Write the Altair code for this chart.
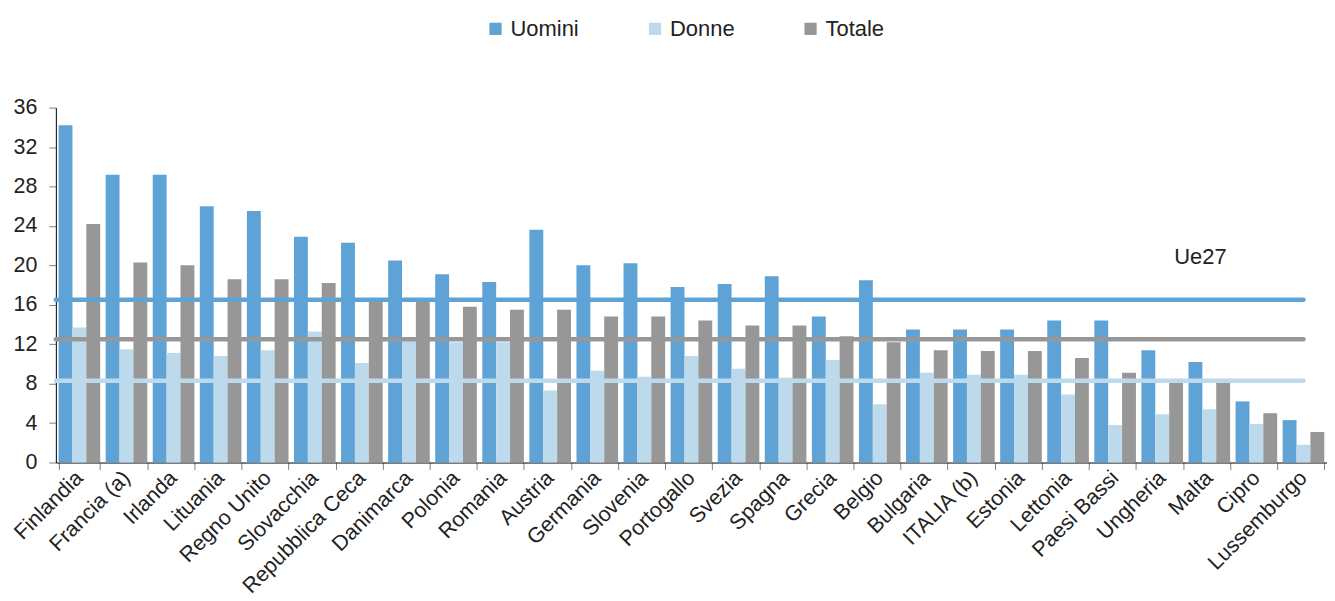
import altair as alt
import pandas as pd

paesi = ["Finlandia", "Francia (a)", "Irlanda", "Lituania", "Regno Unito", "Slovacchia",
         "Repubblica Ceca", "Danimarca", "Polonia", "Romania", "Austria", "Germania",
         "Slovenia", "Portogallo", "Svezia", "Spagna", "Grecia", "Belgio", "Bulgaria",
         "ITALIA (b)", "Estonia", "Lettonia", "Paesi Bassi", "Ungheria", "Malta", "Cipro",
         "Lussemburgo"]
uomini = [34.2, 29.2, 29.2, 26.0, 25.5, 22.9, 22.3, 20.5, 19.1, 18.3, 23.6, 20.0, 20.2,
          17.8, 18.1, 18.9, 14.8, 18.5, 13.5, 13.5, 13.5, 14.4, 14.4, 11.4, 10.2, 6.2, 4.3]
donne = [13.7, 11.5, 11.1, 10.8, 11.4, 13.3, 10.1, 12.3, 12.2, 12.2, 7.3, 9.3, 8.7,
         10.8, 9.5, 8.6, 10.4, 5.9, 9.1, 8.9, 8.9, 6.9, 3.8, 4.9, 5.4, 3.9, 1.8]
totale = [24.2, 20.3, 20.0, 18.6, 18.6, 18.2, 16.3, 16.3, 15.8, 15.5, 15.5, 14.8, 14.8,
          14.4, 13.9, 13.9, 12.8, 12.2, 11.4, 11.3, 11.3, 10.6, 9.1, 8.1, 8.1, 5.0, 3.1]
serie = ["Uomini", "Donne", "Totale"]
colori = ["#5FA3D6", "#BDDAEC", "#979797"]
ue27 = [16.5, 8.3, 12.5]
ue27_label = ["Ue27"]
ue27_label_y = [20.8]
y_ticks = [0, 4, 8, 12, 16, 20, 24, 28, 32, 36]

rows = []
for i, p in enumerate(paesi):
    for s, vals in zip(serie, [uomini, donne, totale]):
        rows.append({"Paese": p, "Serie": s, "Valore": vals[i]})
df = pd.DataFrame(rows)
df_ue = pd.DataFrame({"Serie": serie, "Valore": ue27})
df_lab = pd.DataFrame({"t": ue27_label, "Valore": ue27_label_y})

W = 1275
H = 356
step = W / len(paesi)
FONT = "Liberation Sans"
AX = 21.5

color_scale = alt.Scale(domain=serie, range=colori)
y_scale = alt.Scale(domain=[0, 36], nice=False)
y_axis = alt.Axis(title=None, values=y_ticks, grid=False,
                  labelFontSize=AX, labelFont=FONT, labelColor="#222222",
                  tickSize=7, tickColor="#808080", domainColor="#000000",
                  labelPadding=12, labelOverlap=False, labelFlush=False)

bars = alt.Chart(df).mark_bar().encode(
    x=alt.X("Paese:N", sort=paesi,
            scale=alt.Scale(paddingInner=0.116, paddingOuter=0.058),
            axis=alt.Axis(title=None, labelAngle=-45, labelAlign="right",
                          labelBaseline="middle", labelFontSize=AX, labelFont=FONT,
                          labelColor="#222222", tickBand="extent", tickSize=7,
                          tickColor="#808080", domainColor="#000000", labelPadding=5,
                          labelOverlap=False, labelOffset=0)),
    xOffset=alt.XOffset("Serie:N", sort=serie, scale=alt.Scale(paddingInner=0, paddingOuter=0)),
    y=alt.Y("Valore:Q", scale=y_scale, axis=y_axis),
    color=alt.Color("Serie:N", sort=serie, scale=color_scale,
                    legend=alt.Legend(title=None, orient="none", legendX=430, legendY=-90,
                                      direction="horizontal", columns=3, columnPadding=65,
                                      symbolType="square", symbolSize=150,
                                      symbolStrokeWidth=0, labelFontSize=22,
                                      labelFont=FONT, labelColor="#222222", padding=0)),
)

rules = alt.Chart(df_ue).mark_rule(strokeWidth=4.5, strokeCap="round").encode(
    x=alt.value(0),
    x2=alt.value(W - step / 2),
    y=alt.Y("Valore:Q", scale=y_scale, axis=y_axis),
    color=alt.Color("Serie:N", sort=serie, scale=color_scale, legend=None),
)

label = alt.Chart(df_lab).mark_text(fontSize=22, font=FONT, color="#222222").encode(
    x=alt.value(1148),
    y=alt.Y("Valore:Q", scale=y_scale, axis=y_axis),
    text="t:N",
)

chart = alt.layer(bars, rules, label).properties(
    width=W, height=H,
    padding={"left": 2, "top": 9, "right": 0, "bottom": 3},
).configure_view(stroke=None)

chart.save("out.html", embed_options={"renderer": "svg", "actions": False})
